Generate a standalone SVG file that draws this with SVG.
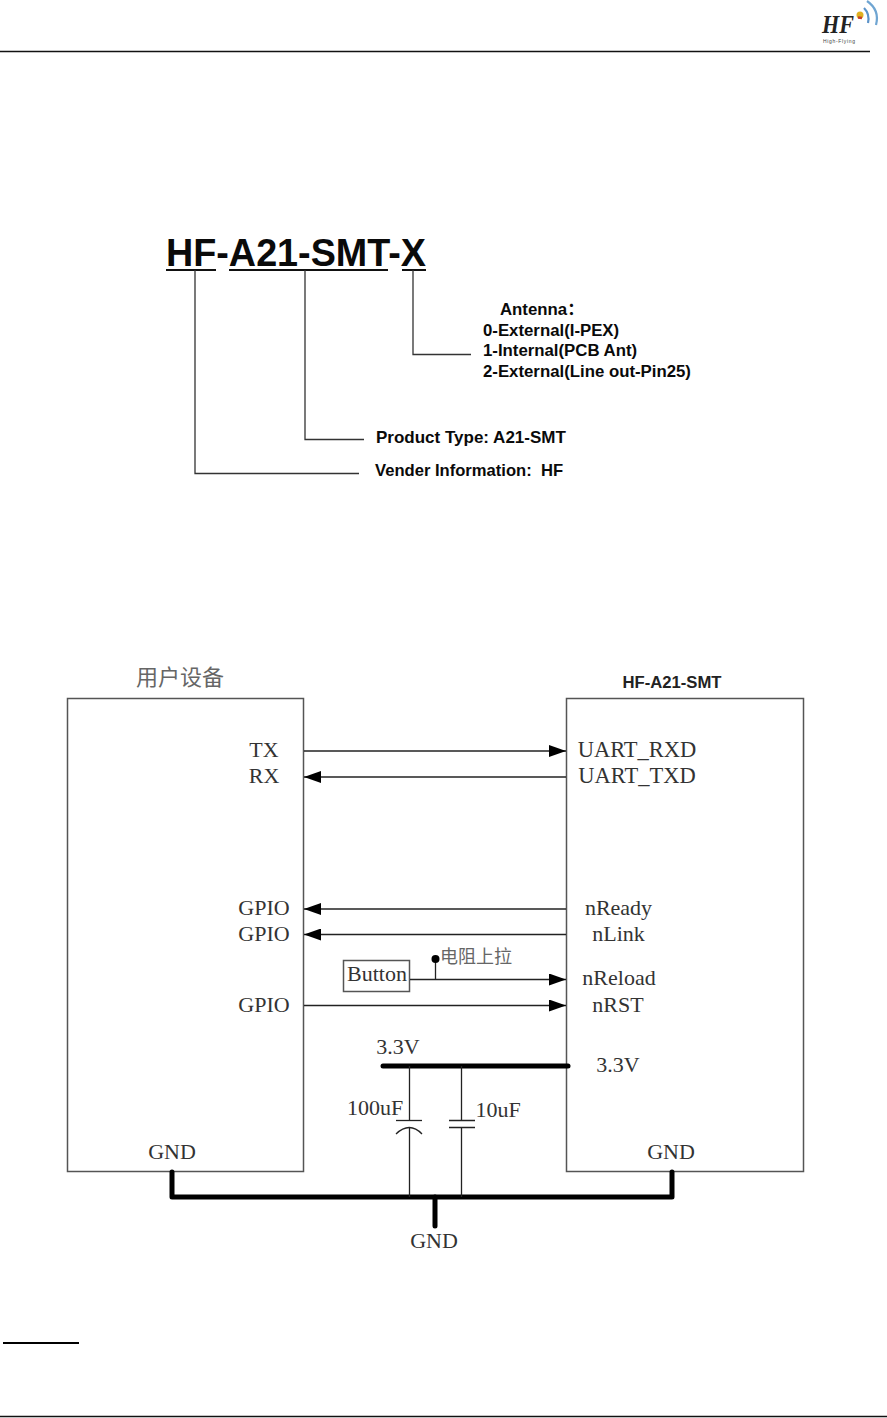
<svg xmlns="http://www.w3.org/2000/svg" width="887" height="1418" viewBox="0 0 887 1418">
<style>
.ser{font-family:"Liberation Serif","Times New Roman",serif;font-size:22px;fill:#333}
.m{text-anchor:middle}
.sans{font-family:"Liberation Sans",Arial,"Noto Sans CJK SC",sans-serif;font-weight:bold;fill:#0a0a0a;white-space:pre}
.lab{font-size:16.8px}
.cjk{font-family:"Liberation Serif","Noto Sans CJK SC",serif;fill:#666}
.lead{fill:none;stroke:#333;stroke-width:1.3}
.box{fill:none;stroke:#555;stroke-width:1.5}
.wire{fill:none;stroke:#222;stroke-width:1.3}
.bus{fill:none;stroke:#000;stroke-width:5;stroke-linecap:round;stroke-linejoin:round}
.ul{stroke:#111;stroke-width:2;fill:none}
</style>
<defs>
<marker id="arr" markerUnits="userSpaceOnUse" markerWidth="17" markerHeight="12" refX="17" refY="6" orient="auto"><path d="M0 0L17 6L0 12Z" fill="#000"/></marker>
</defs>
<rect width="887" height="1418" fill="#fff"/>
<g id="page">
<path d="M0 51.5H870" stroke="#111" stroke-width="1.3"/>
<path d="M0 1416.5H887" stroke="#111" stroke-width="1.5"/>
<path d="M3 1343H79" stroke="#000" stroke-width="2"/>
</g>
<g id="logo">
<text x="822" y="33" font-family="Liberation Serif,serif" font-style="italic" font-weight="bold" font-size="26" textLength="32" lengthAdjust="spacingAndGlyphs" fill="#222">HF</text>
<text x="823" y="43" font-family="Liberation Sans,sans-serif" font-size="5" textLength="32" fill="#444">High-Flying</text>
<circle cx="860" cy="15" r="3.500" fill="#e0b020"/>
<path d="M858 17.500L862 18" stroke="#c8402a" stroke-width="2.500"/>
<path d="M864 8Q870 14 868 23" fill="none" stroke="#5b93c9" stroke-width="2.200"/>
<path d="M867 1Q880 10 876 25" fill="none" stroke="#6fa5d2" stroke-width="2.200"/>
</g>
<g id="part-number">
<text class="sans" x="166" y="266" font-size="38" textLength="260" lengthAdjust="spacingAndGlyphs">HF-A21-SMT-X</text>
<path class="ul" d="M166 270H216M229 270H388M402 270H426"/>
</g>
<g id="part-labels">
<text class="sans lab" x="500" y="315">Antenna：</text>
<text class="sans lab" x="483" y="336">0-External(I-PEX)</text>
<text class="sans lab" x="483" y="356">1-Internal(PCB Ant)</text>
<text class="sans lab" x="483" y="377">2-External(Line out-Pin25)</text>
<text class="sans" x="376" y="443" font-size="17">Product Type: A21-SMT</text>
<text class="sans" x="375" y="476" font-size="16.600">Vender Information:  HF</text>
</g>
<g id="user-device">
<rect class="box" x="67.500" y="698.500" width="236" height="473"/>
<text class="cjk m" x="180" y="685" font-size="22">用户设备</text>
<text class="ser m" x="264" y="757">TX</text>
<text class="ser m" x="264" y="783">RX</text>
<text class="ser m" x="264" y="915">GPIO</text>
<text class="ser m" x="264" y="941">GPIO</text>
<text class="ser m" x="264" y="1012">GPIO</text>
<text class="ser m" x="172" y="1159">GND</text>
</g>
<g id="module">
<rect class="box" x="566.500" y="698.500" width="237" height="473"/>
<text class="sans m" x="672" y="688" font-size="16" textLength="99" lengthAdjust="spacingAndGlyphs" style="fill:#222;font-weight:bold">HF-A21-SMT</text>
<text class="ser m" x="637" y="757" style="font-size:22.500px">UART_RXD</text>
<text class="ser m" x="637" y="783" style="font-size:22.500px">UART_TXD</text>
<text class="ser m" x="618.500" y="915">nReady</text>
<text class="ser m" x="618.500" y="941">nLink</text>
<text class="ser m" x="619" y="985">nReload</text>
<text class="ser m" x="618" y="1012">nRST</text>
<text class="ser m" x="618" y="1072">3.3V</text>
<text class="ser m" x="671" y="1159">GND</text>
</g>
<g id="button">
<rect class="box" x="343.500" y="960.500" width="66" height="31"/>
<text class="ser m" x="377" y="981">Button</text>
</g>
<g id="labels">
<text class="cjk" x="440" y="963" font-size="18">电阻上拉</text>
<text class="ser m" x="398" y="1054">3.3V</text>
<text class="ser m" x="375" y="1115">100uF</text>
<text class="ser m" x="498" y="1117">10uF</text>
<text class="ser m" x="434" y="1248">GND</text>
</g>
<g id="connectors">
<path class="lead" d="M195 270V473.500H359"/>
<path class="lead" d="M305 270V439.500H364"/>
<path class="lead" d="M413 270V354.500H471"/>
<path class="wire" d="M304 751H566" marker-end="url(#arr)"/>
<path class="wire" d="M566 777H304" marker-end="url(#arr)"/>
<path class="wire" d="M566 909H304" marker-end="url(#arr)"/>
<path class="wire" d="M566 934.500H304" marker-end="url(#arr)"/>
<path class="wire" d="M410 979.500H566" marker-end="url(#arr)"/>
<path class="wire" d="M304 1005.500H566" marker-end="url(#arr)"/>
<path class="wire" d="M435.500 979V959"/>
<circle cx="435.500" cy="959" r="4" fill="#000"/>
<path class="bus" d="M383 1066H568"/>
<path class="bus" d="M172 1172V1197H672V1172"/>
<path class="bus" d="M435 1197V1226"/>
<path class="wire" d="M409.500 1066V1120M409.500 1127V1197"/>
<path class="wire" d="M396 1120.500H422"/>
<path class="wire" d="M396 1134Q409.500 1121 422 1134"/>
<path class="wire" d="M461.500 1066V1120M461.500 1127V1197"/>
<path class="wire" d="M449 1120.500H475M449 1127.500H475"/>
</g>
</svg>
